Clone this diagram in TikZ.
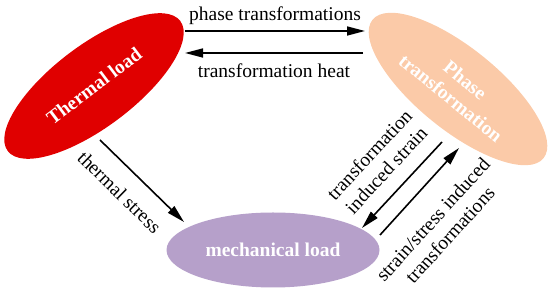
\documentclass[tikz,border=0pt]{standalone}
\usepackage{fontspec}
\setmainfont{Liberation Serif}
\usepackage{xcolor}
\usepackage{tikz}
\usetikzlibrary{shapes.geometric, arrows.meta, positioning, calc}
\definecolor{LoadRed}{RGB}{224, 0, 0}
\definecolor{PhasePeach}{RGB}{251, 202, 168}
\definecolor{MechLilac}{RGB}{182, 160, 202}

\tikzset{
  loadblob/.style={ellipse, inner sep=0pt, text=white, align=center,
    font=\fontsize{19.5}{23}\selectfont\bfseries},
  flowarrow/.style={line width=1.6pt, -{Triangle[length=18pt, width=9pt]}},
  flowtext/.style={font=\fontsize{19.5}{23}\selectfont, inner sep=2pt, align=center}
}

\begin{document}
\begin{tikzpicture}[x=1pt, y=1pt]
    \useasboundingbox (0,0) rectangle (550,291);
    % the three loads
    \node[loadblob, fill=LoadRed, minimum width=216pt, minimum height=82pt,
          rotate=37] (thermal) at (94,205) {Thermal load};
    \node[loadblob, fill=PhasePeach, minimum width=220pt, minimum height=82pt,
          rotate=-39] (phase) at (458,202) {Phase\\transformation};
    \node[loadblob, fill=MechLilac, minimum width=213pt,
          minimum height=75pt] (mech) at (273,41) {mechanical load};

    % thermal <-> phase
    \draw[flowarrow] ([shift={(91,55)}]thermal.center) -- ([shift={(-93,58)}]phase.center)
      node[flowtext, midway, anchor=base, yshift=10pt] (ptlabel) {phase transformations};
    \draw[flowarrow] ([shift={(-95,36)}]phase.center) -- ([shift={(91,33)}]thermal.center)
      node[flowtext, midway, anchor=base, yshift=-25pt] (thlabel) {transformation heat};

    % thermal -> mechanical
    \draw[flowarrow] ([shift={(6,-54)}]thermal.center) -- ([shift={(-89,28)}]mech.center)
      node[flowtext, pos=0.43, sloped, below=14pt] (tslabel) {thermal stress};

    % phase <-> mechanical
    \draw[flowarrow] ([shift={(-16,-53)}]phase.center) -- ([shift={(89,22)}]mech.center)
      node[flowtext, midway, sloped, above=12pt] (islabel) {transformation\\induced strain};
    \draw[flowarrow] ([shift={(107,15)}]mech.center) -- ([shift={(1,-59)}]phase.center)
      node[flowtext, pos=0.4, sloped, below=19pt] (sslabel) {strain/stress induced\\transformations};
  \end{tikzpicture}
\end{document}
